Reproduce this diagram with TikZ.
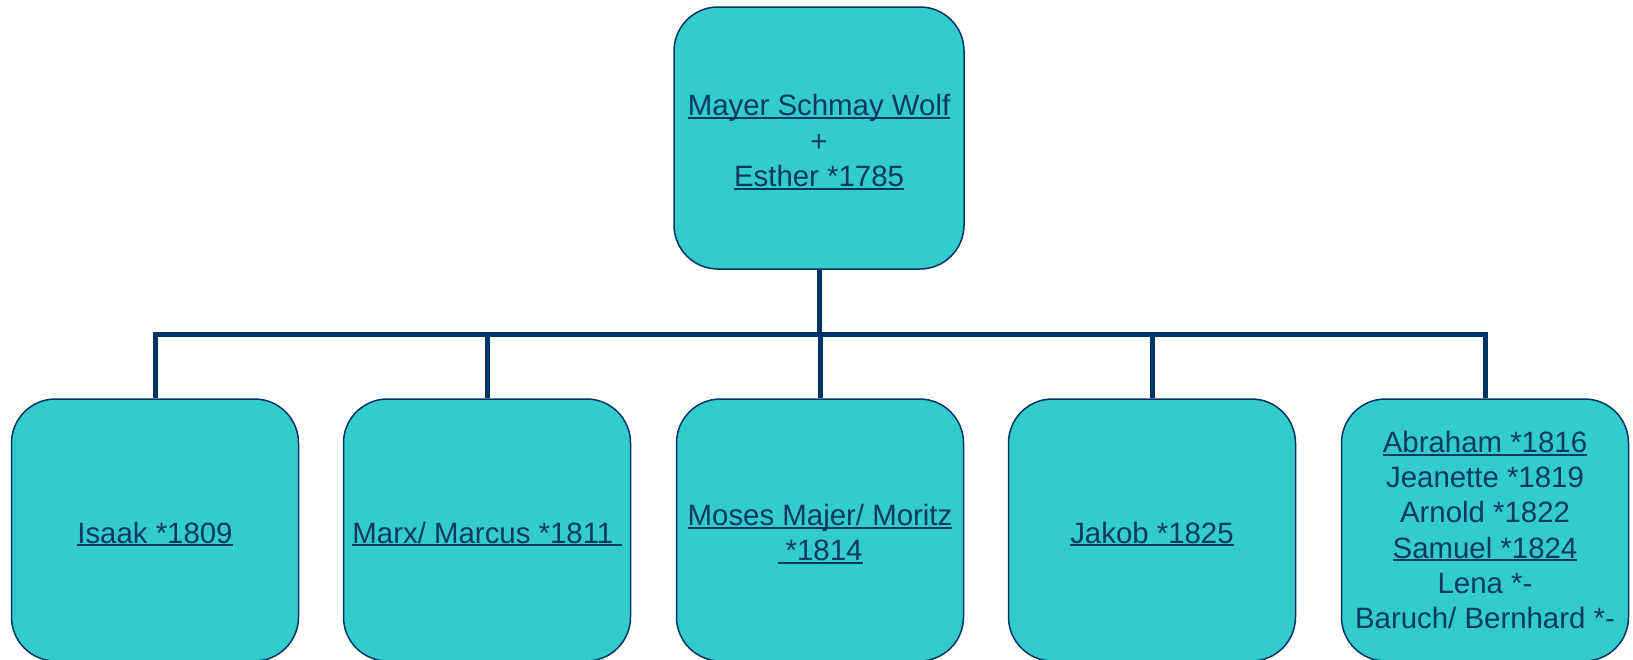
\documentclass[tikz,border=0pt]{standalone}
\usepackage{fontspec}
\setmainfont{Liberation Sans}
\definecolor{navy}{RGB}{0,51,102}
\definecolor{inktext}{RGB}{12,56,102}
\definecolor{boxfill}{RGB}{51,204,204}
% underline drawn just below the baseline, spaces included
\newcommand\lnk[1]{\setbox0\hbox{#1}\rlap{\rule[-0.11em]{\wd0}{0.065em}}\box0}
% extra room above the first line, to set the text a little lower
\newcommand\headroom{\rule{0pt}{1.0em}}
\tikzset{
  person/.style={draw=navy, line width=1.5pt, fill=boxfill, rounded corners=44pt,
    minimum width=287pt, minimum height=262pt, inner sep=2pt, align=center,
    text=inktext, font=\fontsize{29.4}{35.3}\selectfont},
  conn/.style={draw=navy, line width=5pt}
}
\begin{document}
\begin{tikzpicture}[x=1pt,y=-1pt]
\useasboundingbox (0,0) rectangle (1633,659);
\coordinate (bar) at (0,334);
\node[person, minimum width=290pt] (top) at (819,138) {\headroom\lnk{Mayer Schmay Wolf}\\+\\\lnk{Esther *1785}};
\node[person] (c1) at (155,530) {\headroom\lnk{Isaak *1809}};
\node[person] (c2) at (487,530) {\headroom\lnk{Marx/ Marcus *1811 }};
\node[person] (c3) at (820,530) {\headroom\lnk{Moses Majer/ Moritz}\\\lnk{ *1814}};
\node[person] (c4) at (1152,530) {\headroom\lnk{Jakob *1825}};
\node[person] (c5) at (1485,530) {\lnk{Abraham *1816}\\Jeanette *1819\\Arnold *1822\\\lnk{Samuel *1824}\\Lena *-\\Baruch/ Bernhard *-};
% family lines from the parents to each child
\foreach \c in {c1,c2,c3,c4,c5}
  \draw[conn] (top.south) -- (top.south |- bar) -| (\c.north);
\end{tikzpicture}
\end{document}
